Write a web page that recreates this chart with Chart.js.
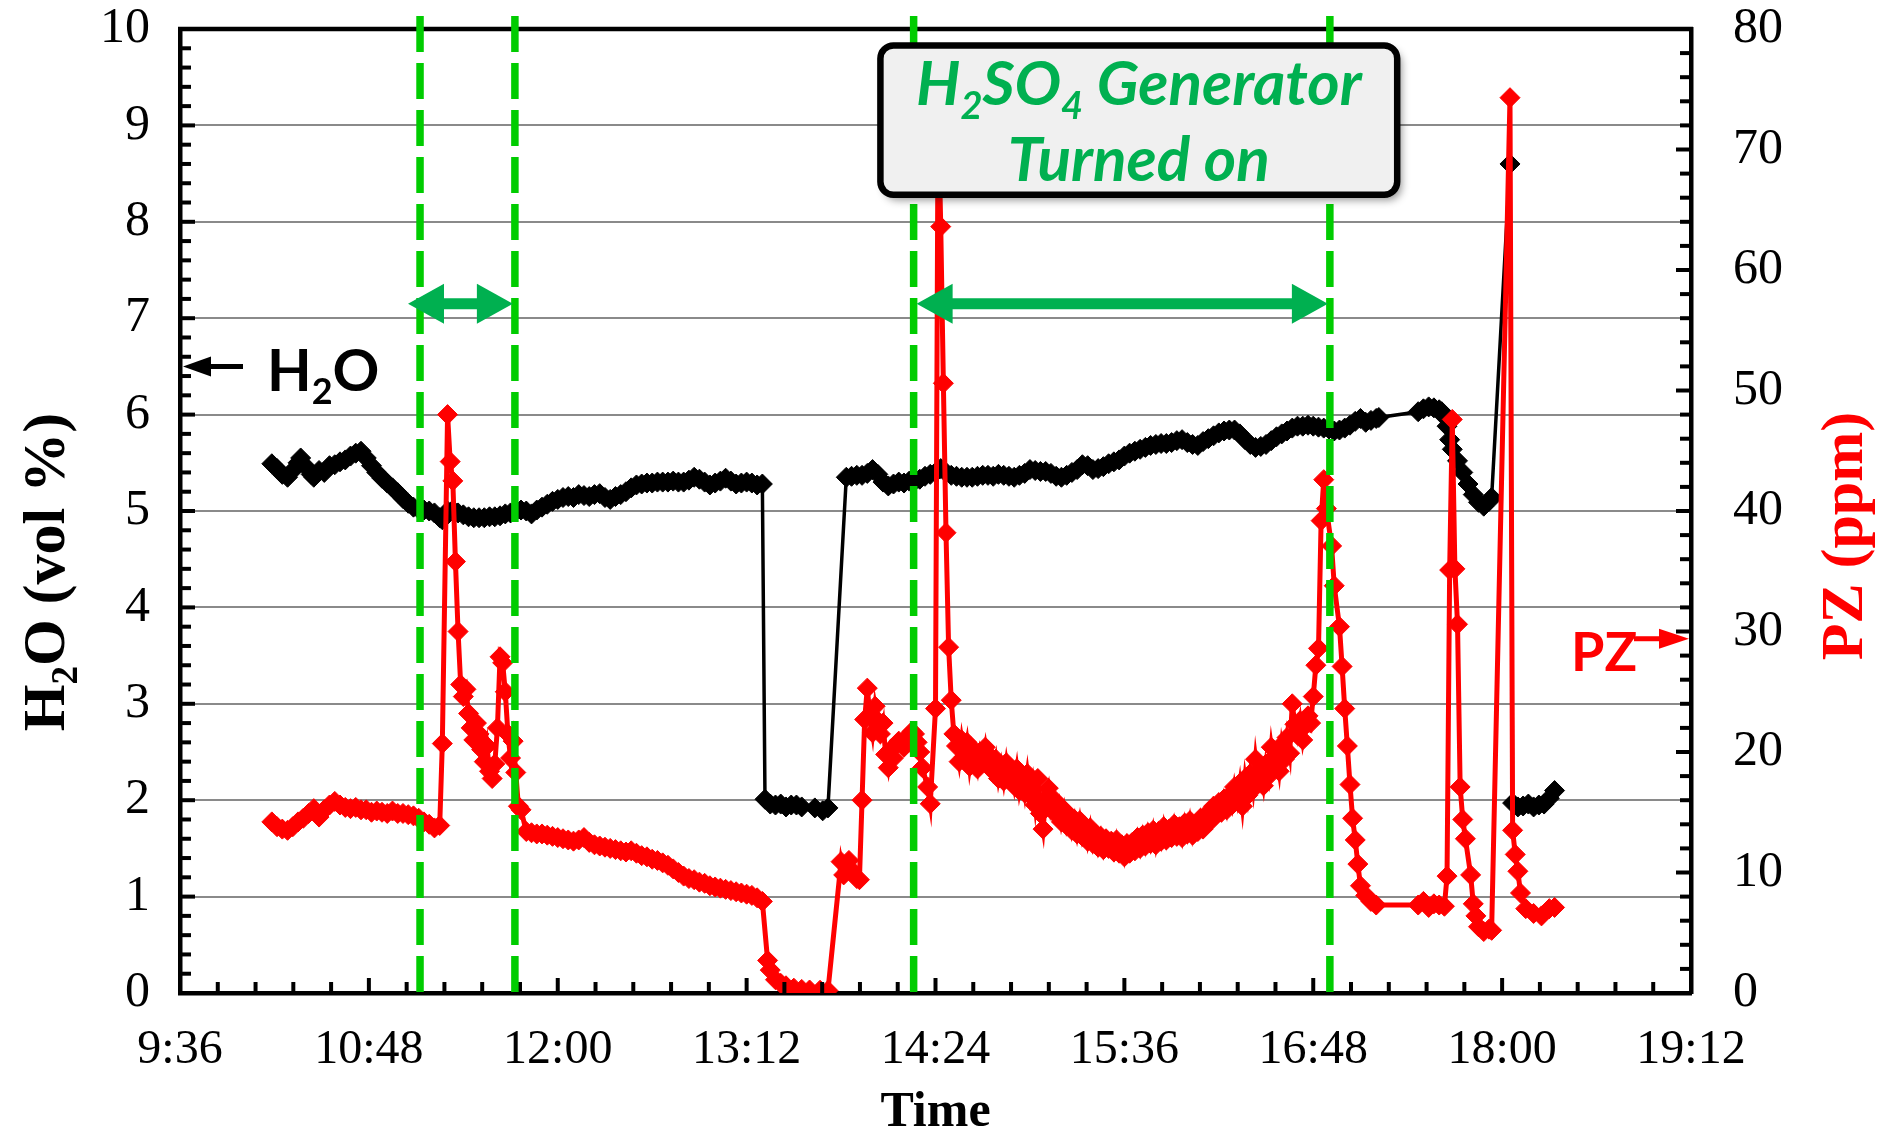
<!DOCTYPE html>
<html>
<head>
<meta charset="utf-8">
<script src="https://cdn.jsdelivr.net/npm/chart.js@4.4.1/dist/chart.umd.min.js"></script>
<style>
  html, body { margin: 0; padding: 0; background: #fff; }
  #wrap { width: 1878px; height: 1138px; position: relative; }
</style>
</head>
<body>
<div id="wrap"><canvas id="chart"></canvas></div>
<script>
// H2O (vol %), left axis
const h2oTimes = [
  '10:11','10:13','10:15','10:17','10:19','10:21','10:22','10:24','10:26','10:27',
  '10:29','10:31','10:33','10:35','10:37','10:39','10:41','10:43','10:45','10:47',
  '10:49','10:51','10:53','10:55','10:57','10:59','11:01','11:03','11:05','11:07',
  '11:09','11:11','11:13','11:15','11:16','11:18','11:20','11:22','11:24','11:26',
  '11:28','11:30','11:32','11:34','11:36','11:38','11:40','11:42','11:44','11:46',
  '11:48','11:50','11:52','11:54','11:56','11:58','12:00','12:02','12:04','12:06',
  '12:08','12:10','12:12','12:14','12:16','12:18','12:20','12:22','12:24','12:26',
  '12:28','12:30','12:32','12:34','12:36','12:38','12:40','12:42','12:44','12:46',
  '12:48','12:50','12:52','12:54','12:56','12:58','13:00','13:02','13:04','13:06',
  '13:08','13:10','13:12','13:14','13:16','13:18','13:19','13:21','13:23','13:25',
  '13:27','13:29','13:31','13:33','13:38','13:41','13:43','13:50','13:52','13:54',
  '13:56','13:58','14:00','14:02','14:04','14:06','14:08','14:10','14:12','14:14',
  '14:16','14:18','14:20','14:22','14:24','14:26','14:28','14:30','14:32','14:34',
  '14:36','14:38','14:40','14:42','14:44','14:46','14:48','14:50','14:52','14:54',
  '14:56','14:58','15:00','15:02','15:04','15:06','15:08','15:10','15:12','15:14',
  '15:16','15:18','15:20','15:22','15:24','15:26','15:28','15:30','15:32','15:34',
  '15:36','15:38','15:40','15:42','15:44','15:46','15:48','15:50','15:52','15:54',
  '15:56','15:58','16:00','16:02','16:04','16:06','16:08','16:10','16:12','16:14',
  '16:16','16:18','16:20','16:22','16:24','16:26','16:28','16:30','16:32','16:34',
  '16:36','16:38','16:40','16:42','16:44','16:46','16:48','16:50','16:52','16:54',
  '16:56','16:58','17:00','17:02','17:04','17:06','17:08','17:10','17:12','17:13',
  '17:28','17:30','17:32','17:34','17:36','17:37','17:38','17:39','17:40','17:41',
  '17:43','17:45','17:47','17:49','17:51','17:53','17:55','17:56','18:03','18:04',
  '18:06','18:08','18:10','18:12','18:14','18:16','18:18','18:20'
];
const h2oValues = [
  5.49,5.44,5.38,5.35,5.42,5.50,5.55,5.46,5.38,5.35,
  5.42,5.40,5.47,5.48,5.51,5.53,5.57,5.60,5.62,5.55,
  5.47,5.40,5.34,5.29,5.24,5.19,5.13,5.08,5.04,5.02,
  5.01,5.00,4.98,4.93,4.91,5.00,5.01,4.98,4.96,4.94,
  4.93,4.93,4.93,4.94,4.94,4.95,4.97,4.98,5.00,5.01,
  5.00,4.97,5.01,5.04,5.07,5.10,5.12,5.14,5.15,5.14,
  5.17,5.16,5.15,5.17,5.18,5.14,5.12,5.15,5.17,5.20,
  5.24,5.27,5.28,5.29,5.29,5.30,5.30,5.30,5.31,5.30,
  5.30,5.32,5.35,5.33,5.30,5.27,5.29,5.31,5.34,5.31,
  5.28,5.29,5.30,5.29,5.27,5.28,2.01,1.96,1.95,1.96,
  1.93,1.95,1.95,1.93,1.92,1.89,1.92,5.35,5.36,5.37,
  5.37,5.39,5.43,5.38,5.30,5.26,5.28,5.30,5.29,5.31,
  5.31,5.33,5.36,5.38,5.40,5.44,5.40,5.37,5.36,5.35,
  5.35,5.35,5.36,5.37,5.37,5.36,5.38,5.37,5.36,5.35,
  5.37,5.39,5.43,5.42,5.41,5.41,5.39,5.36,5.35,5.37,
  5.40,5.43,5.48,5.47,5.43,5.44,5.46,5.49,5.51,5.53,
  5.57,5.60,5.62,5.64,5.66,5.68,5.69,5.70,5.70,5.71,
  5.73,5.74,5.71,5.69,5.68,5.72,5.75,5.78,5.81,5.83,
  5.84,5.84,5.80,5.74,5.69,5.66,5.67,5.69,5.73,5.77,
  5.80,5.83,5.86,5.88,5.88,5.89,5.88,5.87,5.86,5.85,
  5.83,5.84,5.86,5.89,5.93,5.96,5.92,5.94,5.96,5.97,
  6.03,6.06,6.08,6.07,6.05,6.03,5.98,5.88,5.74,5.64,
  5.52,5.40,5.28,5.17,5.09,5.05,5.10,5.14,8.60,1.97,
  1.93,1.94,1.96,1.93,1.95,1.96,2.02,2.10
];

// PZ (ppm), right axis
const pzTimes = [
  '10:11','10:13','10:15','10:17','10:19','10:21','10:23','10:25','10:27','10:29',
  '10:31','10:33','10:35','10:37','10:39','10:41','10:43','10:45','10:47','10:49',
  '10:51','10:53','10:55','10:57','10:59','11:01','11:03','11:05','11:07','11:09',
  '11:11','11:13','11:15','11:16','11:18','11:19','11:20','11:21','11:22','11:23',
  '11:24','11:25','11:26','11:27','11:28','11:29','11:30','11:31','11:32','11:33',
  '11:34','11:35','11:36','11:37','11:38','11:39','11:40','11:41','11:42','11:43',
  '11:44','11:45','11:46','11:48','11:50','11:52','11:54','11:56','11:58','12:00',
  '12:02','12:04','12:06','12:08','12:10','12:12','12:14','12:16','12:18','12:20',
  '12:22','12:24','12:26','12:28','12:30','12:32','12:34','12:36','12:38','12:40',
  '12:42','12:44','12:46','12:48','12:50','12:52','12:54','12:56','12:58','13:00',
  '13:02','13:04','13:06','13:08','13:10','13:12','13:14','13:16','13:18','13:20',
  '13:21','13:23','13:25','13:27','13:30','13:33','13:36','13:40','13:43','13:48',
  '13:49','13:51','13:52','13:54','13:55','13:56','13:57','13:58','13:59','14:00',
  '14:01','14:02','14:03','14:04','14:05','14:06','14:07','14:08','14:09','14:10',
  '14:12','14:13','14:15','14:16','14:17','14:18','14:19','14:21','14:22','14:24',
  '14:25','14:26','14:27','14:28','14:29','14:30','14:31','14:32','14:33','14:34',
  '14:35','14:36','14:37','14:38','14:39','14:40','14:41','14:42','14:43','14:44',
  '14:45','14:46','14:47','14:48','14:49','14:50','14:51','14:52','14:53','14:54',
  '14:55','14:56','14:57','14:58','14:59','15:00','15:01','15:02','15:03','15:04',
  '15:05','15:06','15:07','15:08','15:09','15:10','15:11','15:12','15:13','15:14',
  '15:15','15:16','15:17','15:18','15:19','15:20','15:21','15:22','15:23','15:24',
  '15:25','15:26','15:27','15:28','15:29','15:30','15:31','15:32','15:33','15:34',
  '15:35','15:36','15:37','15:38','15:39','15:40','15:41','15:42','15:43','15:44',
  '15:45','15:46','15:47','15:48','15:49','15:50','15:51','15:52','15:53','15:54',
  '15:55','15:56','15:57','15:58','15:59','16:00','16:01','16:02','16:03','16:04',
  '16:05','16:06','16:07','16:08','16:09','16:10','16:11','16:12','16:13','16:14',
  '16:15','16:16','16:17','16:18','16:19','16:20','16:21','16:22','16:23','16:24',
  '16:25','16:26','16:27','16:28','16:29','16:30','16:31','16:32','16:33','16:34',
  '16:35','16:36','16:37','16:38','16:39','16:40','16:41','16:42','16:43','16:44',
  '16:45','16:46','16:47','16:48','16:49','16:50','16:51','16:52','16:53','16:55',
  '16:56','16:58','16:59','17:00','17:01','17:02','17:03','17:04','17:05','17:06',
  '17:08','17:10','17:12','17:28','17:30','17:32','17:34','17:36','17:38','17:39',
  '17:40','17:41','17:42','17:43','17:44','17:45','17:46','17:48','17:49','17:50',
  '17:51','17:53','17:55','17:56','18:03','18:04','18:05','18:06','18:07','18:09',
  '18:12','18:15','18:18','18:20'
];
const pzValues = [
  14.2,13.8,13.6,13.5,13.8,14.2,14.5,14.9,15.3,14.6,
  15.2,15.6,15.9,15.6,15.4,15.3,15.4,15.2,15.2,15.0,
  15.1,15.0,14.9,15.1,14.9,14.9,14.8,14.7,14.5,14.2,
  14.0,13.7,13.9,20.7,48.0,44.1,42.5,35.8,30.0,25.6,
  24.6,25.2,23.2,22.0,21.0,22.4,21.5,20.2,19.2,20.5,
  18.4,17.8,19.0,22.0,27.9,27.4,25.0,21.5,19.5,20.9,
  18.3,15.5,15.2,13.4,13.3,13.2,13.2,13.1,13.0,12.9,
  12.8,12.7,12.6,12.7,12.9,12.5,12.3,12.2,12.1,12.0,
  11.9,11.8,11.7,11.8,11.6,11.4,11.3,11.1,11.0,10.8,
  10.6,10.3,10.0,9.7,9.5,9.4,9.2,9.1,8.9,8.8,
  8.7,8.6,8.5,8.4,8.3,8.2,8.1,7.9,7.6,2.7,
  1.9,1.1,0.8,0.6,0.4,0.3,0.25,0.23,0.2,10.9,
  9.8,11.0,10.2,9.5,9.4,16.0,22.7,25.3,23.0,21.6,
  23.8,22.6,21.5,22.4,19.8,18.7,20.2,19.5,20.6,20.9,
  20.4,21.2,21.7,21.5,20.8,20.0,18.7,17.1,15.7,23.6,
  74.0,63.6,50.6,38.2,28.7,24.3,21.5,20.5,19.2,21.0,
  19.6,20.8,18.8,20.3,19.5,18.6,20.0,19.2,20.4,18.9,
  19.6,18.4,19.4,17.8,18.9,17.6,19.1,17.7,18.4,17.2,
  18.6,16.8,17.9,16.6,18.2,16.4,17.5,15.6,17.8,14.9,
  13.6,16.2,17.0,15.3,16.1,14.8,15.6,14.2,15.2,13.9,
  14.7,13.5,14.4,13.2,14.3,13.0,13.8,12.6,13.7,12.4,
  13.2,12.1,13.0,11.9,12.8,12.0,12.6,11.7,12.7,11.6,
  12.3,11.3,12.4,11.6,12.5,11.8,12.9,12.0,13.1,12.2,
  13.3,12.4,13.5,12.3,13.4,12.6,13.8,12.7,13.6,12.9,
  14.0,13.0,13.8,12.9,14.1,13.2,14.3,13.1,14.0,13.4,
  14.5,13.6,14.2,15.0,14.3,15.5,14.8,15.8,15.0,16.1,
  15.2,16.4,15.6,17.1,16.0,17.4,15.5,17.8,16.4,18.2,
  16.9,19.4,17.6,18.4,17.2,19.0,18.0,20.4,18.8,19.8,
  18.4,20.6,19.4,21.2,19.9,24.0,22.3,21.4,22.6,21.0,
  22.2,23.0,22.4,24.6,27.2,28.6,39.2,42.6,40.2,37.1,
  33.8,30.4,27.1,23.6,20.5,17.3,14.5,12.7,10.7,8.9,
  8.1,7.6,7.3,7.3,7.6,7.1,7.4,7.3,7.2,9.7,
  35.1,47.6,35.2,30.6,17.1,14.4,12.8,9.8,7.4,6.4,
  5.5,5.1,5.3,5.2,74.3,13.5,11.5,10.1,8.3,7.0,
  6.6,6.4,7.0,7.1
];

// generator on/off marks and the periods between them
const genLineTimes = ['11:07:30', '11:43:40', '14:15:40', '16:54:20'];
const genPeriods = [[0, 1], [2, 3]];
const periodArrowLevel = 7.15;     // on the H2O axis
const noteBoxTimes = ['14:03', '17:20'];
const noteBoxLevels = [8.28, 9.83];
const noteLines = [[['H', 0], ['2', 1], ['SO', 0], ['4', 1], [' Generator', 0]], [['Turned on', 0]]];
const h2oMark = 6.5;   // left axis
const pzMark = 29.4;   // right axis

// axis ranges
const timeMin = '9:36', timeMax = '19:12', timeMajor = 72, timeMinor = 14.4;
const h2oMin = 0, h2oMax = 10, pzMin = 0, pzMax = 80;

const toMin = s => { const p = s.split(':').map(Number); return p[0] * 60 + p[1] + (p[2] || 0) / 60; };
const fmtTime = v => { const m = Math.round(v); return Math.floor(m / 60) + ':' + String(m % 60).padStart(2, '0'); };
const t0 = toMin(timeMin);
const isMajor = (v, step, base) => Math.abs((v - base) / step - Math.round((v - base) / step)) < 1e-6;

function richText(ctx, parts, x, y, size, family, style, color, rot, align) {
  ctx.save();
  ctx.translate(x, y);
  ctx.rotate(rot || 0);
  const f = sub => `${style} ${sub ? Math.round(size * 0.62) : size}px ${family}`;
  let w = 0;
  parts.forEach(([t, sub]) => { ctx.font = f(sub); w += ctx.measureText(t).width; });
  let cx = align === 'left' ? 0 : -w / 2;
  ctx.fillStyle = color;
  ctx.textBaseline = 'alphabetic';
  ctx.textAlign = 'left';
  parts.forEach(([t, sub]) => {
    ctx.font = f(sub);
    ctx.fillText(t, cx, sub ? size * 0.22 : 0);
    cx += ctx.measureText(t).width;
  });
  ctx.restore();
}

function head(ctx, tipX, tipY, dir, len, half) {
  ctx.beginPath();
  ctx.moveTo(tipX, tipY);
  ctx.lineTo(tipX - dir * len, tipY - half);
  ctx.lineTo(tipX - dir * len, tipY + half);
  ctx.closePath();
  ctx.fill();
}

const extras = {
  id: 'extras',
  afterDraw(chart) {
    const {ctx, chartArea: a, scales} = chart;
    const {x, y, y1} = scales;
    ctx.save();

    // top frame line
    ctx.strokeStyle = '#000';
    ctx.lineWidth = 4.5;
    ctx.beginPath(); ctx.moveTo(a.left - 2, a.top); ctx.lineTo(a.right + 2, a.top); ctx.stroke();

    // inward tick marks
    ctx.lineWidth = 4;
    x.ticks.forEach(t => {
      const px = x.getPixelForValue(t.value), L = t.label ? 15 : 11;
      ctx.beginPath(); ctx.moveTo(px, a.bottom); ctx.lineTo(px, a.bottom - L); ctx.stroke();
    });
    y.ticks.forEach(t => {
      const py = y.getPixelForValue(t.value), L = t.label ? 15 : 11;
      ctx.beginPath(); ctx.moveTo(a.left, py); ctx.lineTo(a.left + L, py); ctx.stroke();
    });
    y1.ticks.forEach(t => {
      const py = y1.getPixelForValue(t.value), L = t.label ? 15 : 11;
      ctx.beginPath(); ctx.moveTo(a.right, py); ctx.lineTo(a.right - L, py); ctx.stroke();
    });

    // green dashed markers
    ctx.strokeStyle = '#00cc00';
    ctx.lineWidth = 7.5;
    ctx.setLineDash([36, 11]);
    const gx = genLineTimes.map(t => x.getPixelForValue(toMin(t)));
    gx.forEach(px => {
      ctx.beginPath(); ctx.moveTo(px, a.top - 13); ctx.lineTo(px, a.bottom); ctx.stroke();
    });
    ctx.setLineDash([]);

    // double arrows
    ctx.fillStyle = '#00b050';
    ctx.strokeStyle = '#00b050';
    const ay = y.getPixelForValue(periodArrowLevel);
    genPeriods.forEach(([i, j], k) => {
      const xa = gx[i] - (k === 0 ? 12 : -3), xb = gx[j] - 2;
      ctx.lineWidth = 11;
      ctx.beginPath(); ctx.moveTo(xa + 30, ay); ctx.lineTo(xb - 30, ay); ctx.stroke();
      head(ctx, xa, ay, -1, 36, 20);
      head(ctx, xb, ay, 1, 36, 20);
    });

    // note box
    const bx0 = x.getPixelForValue(toMin(noteBoxTimes[0])), bx1 = x.getPixelForValue(toMin(noteBoxTimes[1]));
    const by0 = y.getPixelForValue(noteBoxLevels[1]), by1 = y.getPixelForValue(noteBoxLevels[0]);
    ctx.save();
    ctx.shadowColor = 'rgba(0,0,0,0.45)';
    ctx.shadowBlur = 8;
    ctx.shadowOffsetX = 4;
    ctx.shadowOffsetY = 5;
    ctx.fillStyle = '#f0f0f0';
    ctx.beginPath(); ctx.roundRect(bx0, by0, bx1 - bx0, by1 - by0, 13); ctx.fill();
    ctx.restore();
    ctx.strokeStyle = '#000';
    ctx.lineWidth = 6.5;
    ctx.beginPath(); ctx.roundRect(bx0, by0, bx1 - bx0, by1 - by0, 13); ctx.stroke();
    const bcx = (bx0 + bx1) / 2;
    richText(ctx, noteLines[0], bcx, by0 + 60, 62, 'Lato', 'italic bold', '#00b050', 0, 'center');
    richText(ctx, noteLines[1], bcx, by0 + 136, 62, 'Lato', 'italic bold', '#00b050', 0, 'center');

    // H2O pointer
    const hy = y.getPixelForValue(h2oMark);
    ctx.fillStyle = '#000'; ctx.strokeStyle = '#000'; ctx.lineWidth = 5;
    ctx.beginPath(); ctx.moveTo(a.left + 28, hy); ctx.lineTo(a.left + 63, hy); ctx.stroke();
    head(ctx, a.left + 3, hy, -1, 28, 10);
    richText(ctx, [['H', 0], ['2', 1], ['O', 0]], a.left + 87, hy + 25, 58, 'Lato', 'bold', '#000', 0, 'left');

    // PZ pointer
    const py = y1.getPixelForValue(pzMark);
    ctx.fillStyle = '#ff0000'; ctx.strokeStyle = '#ff0000';
    ctx.beginPath(); ctx.moveTo(a.right - 57, py); ctx.lineTo(a.right - 28, py); ctx.stroke();
    head(ctx, a.right - 2, py, 1, 30, 10);
    richText(ctx, [['PZ', 0]], a.right - 120, py + 32, 54, 'Lato', 'bold', '#ff0000', 0, 'left');

    // axis titles
    richText(ctx, [['H', 0], ['2', 1], ['O (vol %)', 0]], 64, 572, 60,
      'Liberation Serif', 'bold', '#000', -Math.PI / 2, 'center');
    richText(ctx, [['PZ (ppm)', 0]], 1862, 536, 60,
      'Liberation Serif', 'bold', '#ff0000', -Math.PI / 2, 'center');

    ctx.restore();
  }
};

const tickFont = {family: 'Liberation Serif', size: 50, lineHeight: 1};
const noPad = s => { s.paddingTop = 0; s.paddingBottom = 0; s.paddingLeft = 0; s.paddingRight = 0; };

new Chart(document.getElementById('chart'), {
  type: 'line',
  data: {
    datasets: [
      {
        label: 'PZ',
        data: pzTimes.map((t, i) => ({x: toMin(t), y: pzValues[i]})),
        yAxisID: 'y1',
        borderColor: '#ff0000',
        backgroundColor: '#ff0000',
        borderWidth: 5,
        pointStyle: 'rectRot',
        pointRadius: 10,
        pointBorderWidth: 1,
        pointBackgroundColor: '#ff0000',
        pointBorderColor: '#ff0000',
        tension: 0,
        order: 1
      },
      {
        label: 'H2O',
        data: h2oTimes.map((t, i) => ({x: toMin(t), y: h2oValues[i]})),
        yAxisID: 'y',
        borderColor: '#000000',
        backgroundColor: '#000000',
        borderWidth: 3.5,
        pointStyle: 'rectRot',
        pointRadius: 10,
        pointBorderWidth: 1,
        pointBackgroundColor: '#000000',
        pointBorderColor: '#000000',
        tension: 0,
        order: 2
      }
    ]
  },
  options: {
    responsive: true,
    maintainAspectRatio: false,
    animation: false,
    devicePixelRatio: 1,
    layout: {padding: {top: 29, left: 0, right: 0, bottom: 0}},
    plugins: {legend: {display: false}, tooltip: {enabled: false}, title: {display: false}},
    scales: {
      x: {
        type: 'linear',
        min: t0,
        max: toMin(timeMax),
        afterFit: s => { s.height = 145; noPad(s); },
        border: {color: '#000', width: 4.5},
        grid: {drawOnChartArea: false, drawTicks: false},
        ticks: {
          stepSize: timeMinor,
          autoSkip: false,
          maxRotation: 0,
          padding: 33,
          color: '#000',
          font: {family: 'Liberation Serif', size: 48, lineHeight: 1},
          callback: v => isMajor(v, timeMajor, t0) ? fmtTime(v) : ''
        },
        title: {
          display: true,
          text: 'Time',
          color: '#000',
          padding: {top: 0, bottom: 0},
          font: {family: 'Liberation Serif', size: 50, weight: 'bold', lineHeight: 1}
        }
      },
      y: {
        position: 'left',
        min: h2oMin,
        max: h2oMax,
        afterFit: s => { s.width = 180; noPad(s); },
        border: {color: '#000', width: 4.5},
        grid: {
          drawTicks: false,
          lineWidth: 2,
          color: c => (c.tick && isMajor(c.tick.value, 1, 0)) ? '#8a8a8a' : 'rgba(0,0,0,0)'
        },
        ticks: {
          stepSize: 0.2,
          autoSkip: false,
          padding: 30,
          color: '#000',
          font: tickFont,
          callback: v => isMajor(v, 1, 0) ? String(Math.round(v)) : ''
        }
      },
      y1: {
        position: 'right',
        min: pzMin,
        max: pzMax,
        afterFit: s => { s.width = 187; noPad(s); },
        border: {color: '#000', width: 4.5},
        grid: {drawOnChartArea: false, drawTicks: false},
        ticks: {
          stepSize: 2,
          autoSkip: false,
          padding: 42,
          color: '#000',
          font: tickFont,
          callback: v => isMajor(v, 10, 0) ? String(Math.round(v)) : ''
        }
      }
    }
  },
  plugins: [extras]
});
</script>
</body>
</html>
